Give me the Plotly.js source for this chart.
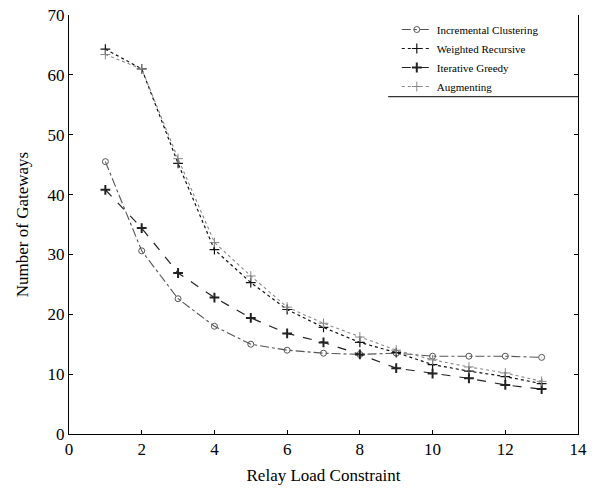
<!DOCTYPE html>
<html>
<head>
<meta charset="utf-8">
<script src="https://cdn.plot.ly/plotly-3.0.1.min.js"></script>
<style>html,body{margin:0;padding:0;background:#fff;}#chart{width:592px;height:490px;}</style>
</head>
<body>
<div id="chart"></div>
<script>
const relayLoad = [1, 2, 3, 4, 5, 6, 7, 8, 9, 10, 11, 12, 13];
const seriesNames = ["Incremental Clustering", "Weighted Recursive", "Iterative Greedy", "Augmenting"];
const incrementalClustering = [45.5, 30.6, 22.6, 18, 15, 14, 13.5, 13.3, 13.5, 13, 13, 13, 12.8];
const weightedRecursive = [64.3, 61, 45.2, 30.8, 25.3, 20.8, 17.8, 15.3, 13.6, 11.6, 10.5, 9.6, 8.4];
const iterativeGreedy = [40.8, 34.4, 26.9, 22.8, 19.4, 16.8, 15.3, 13.3, 11, 10.1, 9.3, 8.2, 7.5];
const augmenting = [63.4, 61, 46, 32, 26.4, 21.2, 18.5, 16.2, 14, 12.4, 11.2, 10.2, 8.8];
const xTicks = [0, 2, 4, 6, 8, 10, 12, 14];
const yTicks = [0, 10, 20, 30, 40, 50, 60, 70];

const serif = "Liberation Serif, Times New Roman, serif";

const traces = [
  {x: relayLoad, y: incrementalClustering, name: seriesNames[0], mode: "lines+markers",
   line: {color: "#555", width: 1.1, dash: "dashdot"},
   marker: {symbol: "circle-open", size: 6, color: "#555", line: {width: 1}}},
  {x: relayLoad, y: weightedRecursive, name: seriesNames[1], mode: "lines+markers",
   line: {color: "#111", width: 1.2, dash: "dot"},
   marker: {symbol: "cross-thin-open", size: 7, color: "#111", line: {width: 1.2, color: "#111"}}},
  {x: relayLoad, y: iterativeGreedy, name: seriesNames[2], mode: "lines+markers",
   line: {color: "#222", width: 1.2, dash: "dash"},
   marker: {symbol: "cross-thin-open", size: 7, color: "#222", line: {width: 2, color: "#222"}}},
  {x: relayLoad, y: augmenting, name: seriesNames[3], mode: "lines+markers",
   line: {color: "#888", width: 1.1, dash: "dot"},
   marker: {symbol: "cross-thin-open", size: 7, color: "#888", line: {width: 1, color: "#888"}}}
];

const layout = {
  width: 592, height: 490,
  paper_bgcolor: "#fff", plot_bgcolor: "#fff",
  margin: {l: 69, r: 14, t: 15, b: 56},
  font: {family: serif, size: 16, color: "#000"},
  showlegend: true,
  legend: {x: 0.644, xanchor: "left", y: 1.0, yanchor: "top",
           bgcolor: "rgba(255,255,255,0)", borderwidth: 0,
           font: {family: serif, size: 11, color: "#000"},
           tracegroupgap: 0, itemwidth: 30},
  xaxis: {range: [0, 14], tickvals: xTicks, ticktext: xTicks.map(String),
          showgrid: false, zeroline: false, showline: true, linecolor: "#000", linewidth: 1,
          ticks: "inside", ticklen: 4, tickcolor: "#000",
          tickfont: {family: serif, size: 17},
          title: {text: "Relay Load Constraint", font: {family: serif, size: 17}, standoff: 10}},
  xaxis2: {range: [0, 14], tickvals: xTicks, overlaying: "x", side: "top",
           showgrid: false, zeroline: false, showline: false,
           ticks: "inside", ticklen: 4, tickcolor: "#000", showticklabels: false},
  yaxis: {range: [0, 70], tickvals: yTicks, ticktext: yTicks.map(String),
          showgrid: false, zeroline: false, showline: true, mirror: "ticks", linecolor: "#000", linewidth: 1,
          ticks: "inside", ticklen: 4, tickcolor: "#000",
          tickfont: {family: serif, size: 17},
          title: {text: "Number of Gateways", font: {family: serif, size: 17}, standoff: 14}},
  shapes: [
    {type: "line", xref: "paper", yref: "paper", x0: 0.627, x1: 1.0, y0: 0.805, y1: 0.805,
     line: {color: "#000", width: 1}}
  ]
};

Plotly.newPlot("chart", traces, layout, {displayModeBar: false, staticPlot: true});
</script>
</body>
</html>
